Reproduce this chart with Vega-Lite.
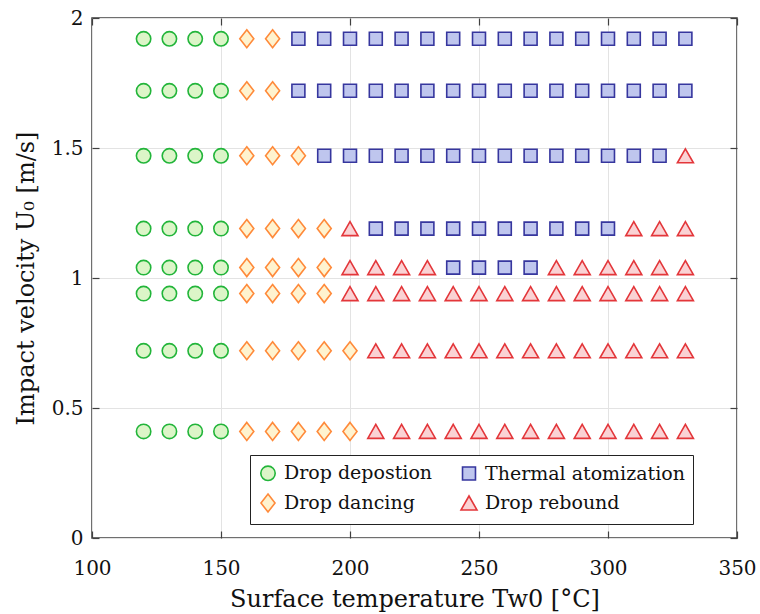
{
  "$schema": "https://vega.github.io/schema/vega-lite/v6.json",
  "width": 645,
  "height": 520,
  "autosize": "none",
  "padding": {"left": 92, "top": 18, "right": 23, "bottom": 76},
  "background": "white",
  "config": {
    "font": "DejaVu Serif",
    "view": {"stroke": "#404040", "strokeWidth": 1.5},
    "axis": {
      "labelFont": "DejaVu Serif",
      "titleFont": "DejaVu Serif",
      "labelColor": "#111",
      "titleColor": "#111",
      "labelFontSize": 20,
      "titleFontSize": 24,
      "titleFontWeight": "normal",
      "labelFlush": false,
      "labelOverlap": false,
      "domain": false,
      "tickColor": "#404040",
      "tickWidth": 1.2,
      "tickSize": -7,
      "gridColor": "#e3e3e3",
      "gridWidth": 1
    },
    "legend": {"labelFont": "DejaVu Serif"}
  },
  "data": {
    "values": [
      {"T":120,"U":1.92,"r":"Drop depostion"},{"T":130,"U":1.92,"r":"Drop depostion"},{"T":140,"U":1.92,"r":"Drop depostion"},{"T":150,"U":1.92,"r":"Drop depostion"},
      {"T":160,"U":1.92,"r":"Drop dancing"},{"T":170,"U":1.92,"r":"Drop dancing"},
      {"T":180,"U":1.92,"r":"Thermal atomization"},{"T":190,"U":1.92,"r":"Thermal atomization"},{"T":200,"U":1.92,"r":"Thermal atomization"},{"T":210,"U":1.92,"r":"Thermal atomization"},{"T":220,"U":1.92,"r":"Thermal atomization"},{"T":230,"U":1.92,"r":"Thermal atomization"},{"T":240,"U":1.92,"r":"Thermal atomization"},{"T":250,"U":1.92,"r":"Thermal atomization"},{"T":260,"U":1.92,"r":"Thermal atomization"},{"T":270,"U":1.92,"r":"Thermal atomization"},{"T":280,"U":1.92,"r":"Thermal atomization"},{"T":290,"U":1.92,"r":"Thermal atomization"},{"T":300,"U":1.92,"r":"Thermal atomization"},{"T":310,"U":1.92,"r":"Thermal atomization"},{"T":320,"U":1.92,"r":"Thermal atomization"},{"T":330,"U":1.92,"r":"Thermal atomization"},

      {"T":120,"U":1.72,"r":"Drop depostion"},{"T":130,"U":1.72,"r":"Drop depostion"},{"T":140,"U":1.72,"r":"Drop depostion"},{"T":150,"U":1.72,"r":"Drop depostion"},
      {"T":160,"U":1.72,"r":"Drop dancing"},{"T":170,"U":1.72,"r":"Drop dancing"},
      {"T":180,"U":1.72,"r":"Thermal atomization"},{"T":190,"U":1.72,"r":"Thermal atomization"},{"T":200,"U":1.72,"r":"Thermal atomization"},{"T":210,"U":1.72,"r":"Thermal atomization"},{"T":220,"U":1.72,"r":"Thermal atomization"},{"T":230,"U":1.72,"r":"Thermal atomization"},{"T":240,"U":1.72,"r":"Thermal atomization"},{"T":250,"U":1.72,"r":"Thermal atomization"},{"T":260,"U":1.72,"r":"Thermal atomization"},{"T":270,"U":1.72,"r":"Thermal atomization"},{"T":280,"U":1.72,"r":"Thermal atomization"},{"T":290,"U":1.72,"r":"Thermal atomization"},{"T":300,"U":1.72,"r":"Thermal atomization"},{"T":310,"U":1.72,"r":"Thermal atomization"},{"T":320,"U":1.72,"r":"Thermal atomization"},{"T":330,"U":1.72,"r":"Thermal atomization"},

      {"T":120,"U":1.47,"r":"Drop depostion"},{"T":130,"U":1.47,"r":"Drop depostion"},{"T":140,"U":1.47,"r":"Drop depostion"},{"T":150,"U":1.47,"r":"Drop depostion"},
      {"T":160,"U":1.47,"r":"Drop dancing"},{"T":170,"U":1.47,"r":"Drop dancing"},{"T":180,"U":1.47,"r":"Drop dancing"},
      {"T":190,"U":1.47,"r":"Thermal atomization"},{"T":200,"U":1.47,"r":"Thermal atomization"},{"T":210,"U":1.47,"r":"Thermal atomization"},{"T":220,"U":1.47,"r":"Thermal atomization"},{"T":230,"U":1.47,"r":"Thermal atomization"},{"T":240,"U":1.47,"r":"Thermal atomization"},{"T":250,"U":1.47,"r":"Thermal atomization"},{"T":260,"U":1.47,"r":"Thermal atomization"},{"T":270,"U":1.47,"r":"Thermal atomization"},{"T":280,"U":1.47,"r":"Thermal atomization"},{"T":290,"U":1.47,"r":"Thermal atomization"},{"T":300,"U":1.47,"r":"Thermal atomization"},{"T":310,"U":1.47,"r":"Thermal atomization"},{"T":320,"U":1.47,"r":"Thermal atomization"},
      {"T":330,"U":1.47,"r":"Drop rebound"},

      {"T":120,"U":1.19,"r":"Drop depostion"},{"T":130,"U":1.19,"r":"Drop depostion"},{"T":140,"U":1.19,"r":"Drop depostion"},{"T":150,"U":1.19,"r":"Drop depostion"},
      {"T":160,"U":1.19,"r":"Drop dancing"},{"T":170,"U":1.19,"r":"Drop dancing"},{"T":180,"U":1.19,"r":"Drop dancing"},{"T":190,"U":1.19,"r":"Drop dancing"},
      {"T":200,"U":1.19,"r":"Drop rebound"},
      {"T":210,"U":1.19,"r":"Thermal atomization"},{"T":220,"U":1.19,"r":"Thermal atomization"},{"T":230,"U":1.19,"r":"Thermal atomization"},{"T":240,"U":1.19,"r":"Thermal atomization"},{"T":250,"U":1.19,"r":"Thermal atomization"},{"T":260,"U":1.19,"r":"Thermal atomization"},{"T":270,"U":1.19,"r":"Thermal atomization"},{"T":280,"U":1.19,"r":"Thermal atomization"},{"T":290,"U":1.19,"r":"Thermal atomization"},{"T":300,"U":1.19,"r":"Thermal atomization"},
      {"T":310,"U":1.19,"r":"Drop rebound"},{"T":320,"U":1.19,"r":"Drop rebound"},{"T":330,"U":1.19,"r":"Drop rebound"},

      {"T":120,"U":1.04,"r":"Drop depostion"},{"T":130,"U":1.04,"r":"Drop depostion"},{"T":140,"U":1.04,"r":"Drop depostion"},{"T":150,"U":1.04,"r":"Drop depostion"},
      {"T":160,"U":1.04,"r":"Drop dancing"},{"T":170,"U":1.04,"r":"Drop dancing"},{"T":180,"U":1.04,"r":"Drop dancing"},{"T":190,"U":1.04,"r":"Drop dancing"},
      {"T":200,"U":1.04,"r":"Drop rebound"},{"T":210,"U":1.04,"r":"Drop rebound"},{"T":220,"U":1.04,"r":"Drop rebound"},{"T":230,"U":1.04,"r":"Drop rebound"},
      {"T":240,"U":1.04,"r":"Thermal atomization"},{"T":250,"U":1.04,"r":"Thermal atomization"},{"T":260,"U":1.04,"r":"Thermal atomization"},{"T":270,"U":1.04,"r":"Thermal atomization"},
      {"T":280,"U":1.04,"r":"Drop rebound"},{"T":290,"U":1.04,"r":"Drop rebound"},{"T":300,"U":1.04,"r":"Drop rebound"},{"T":310,"U":1.04,"r":"Drop rebound"},{"T":320,"U":1.04,"r":"Drop rebound"},{"T":330,"U":1.04,"r":"Drop rebound"},

      {"T":120,"U":0.94,"r":"Drop depostion"},{"T":130,"U":0.94,"r":"Drop depostion"},{"T":140,"U":0.94,"r":"Drop depostion"},{"T":150,"U":0.94,"r":"Drop depostion"},
      {"T":160,"U":0.94,"r":"Drop dancing"},{"T":170,"U":0.94,"r":"Drop dancing"},{"T":180,"U":0.94,"r":"Drop dancing"},{"T":190,"U":0.94,"r":"Drop dancing"},
      {"T":200,"U":0.94,"r":"Drop rebound"},{"T":210,"U":0.94,"r":"Drop rebound"},{"T":220,"U":0.94,"r":"Drop rebound"},{"T":230,"U":0.94,"r":"Drop rebound"},{"T":240,"U":0.94,"r":"Drop rebound"},{"T":250,"U":0.94,"r":"Drop rebound"},{"T":260,"U":0.94,"r":"Drop rebound"},{"T":270,"U":0.94,"r":"Drop rebound"},{"T":280,"U":0.94,"r":"Drop rebound"},{"T":290,"U":0.94,"r":"Drop rebound"},{"T":300,"U":0.94,"r":"Drop rebound"},{"T":310,"U":0.94,"r":"Drop rebound"},{"T":320,"U":0.94,"r":"Drop rebound"},{"T":330,"U":0.94,"r":"Drop rebound"},

      {"T":120,"U":0.72,"r":"Drop depostion"},{"T":130,"U":0.72,"r":"Drop depostion"},{"T":140,"U":0.72,"r":"Drop depostion"},{"T":150,"U":0.72,"r":"Drop depostion"},
      {"T":160,"U":0.72,"r":"Drop dancing"},{"T":170,"U":0.72,"r":"Drop dancing"},{"T":180,"U":0.72,"r":"Drop dancing"},{"T":190,"U":0.72,"r":"Drop dancing"},{"T":200,"U":0.72,"r":"Drop dancing"},
      {"T":210,"U":0.72,"r":"Drop rebound"},{"T":220,"U":0.72,"r":"Drop rebound"},{"T":230,"U":0.72,"r":"Drop rebound"},{"T":240,"U":0.72,"r":"Drop rebound"},{"T":250,"U":0.72,"r":"Drop rebound"},{"T":260,"U":0.72,"r":"Drop rebound"},{"T":270,"U":0.72,"r":"Drop rebound"},{"T":280,"U":0.72,"r":"Drop rebound"},{"T":290,"U":0.72,"r":"Drop rebound"},{"T":300,"U":0.72,"r":"Drop rebound"},{"T":310,"U":0.72,"r":"Drop rebound"},{"T":320,"U":0.72,"r":"Drop rebound"},{"T":330,"U":0.72,"r":"Drop rebound"},

      {"T":120,"U":0.41,"r":"Drop depostion"},{"T":130,"U":0.41,"r":"Drop depostion"},{"T":140,"U":0.41,"r":"Drop depostion"},{"T":150,"U":0.41,"r":"Drop depostion"},
      {"T":160,"U":0.41,"r":"Drop dancing"},{"T":170,"U":0.41,"r":"Drop dancing"},{"T":180,"U":0.41,"r":"Drop dancing"},{"T":190,"U":0.41,"r":"Drop dancing"},{"T":200,"U":0.41,"r":"Drop dancing"},
      {"T":210,"U":0.41,"r":"Drop rebound"},{"T":220,"U":0.41,"r":"Drop rebound"},{"T":230,"U":0.41,"r":"Drop rebound"},{"T":240,"U":0.41,"r":"Drop rebound"},{"T":250,"U":0.41,"r":"Drop rebound"},{"T":260,"U":0.41,"r":"Drop rebound"},{"T":270,"U":0.41,"r":"Drop rebound"},{"T":280,"U":0.41,"r":"Drop rebound"},{"T":290,"U":0.41,"r":"Drop rebound"},{"T":300,"U":0.41,"r":"Drop rebound"},{"T":310,"U":0.41,"r":"Drop rebound"},{"T":320,"U":0.41,"r":"Drop rebound"},{"T":330,"U":0.41,"r":"Drop rebound"}
    ]
  },
  "resolve": {"axis": {"x": "independent", "y": "independent"}},
  "layer": [
    {
      "mark": {"type": "point", "filled": false, "size": 324, "strokeWidth": 1.6, "opacity": 1},
      "encoding": {
        "x": {
          "field": "T", "type": "quantitative",
          "scale": {"domain": [100, 350], "nice": false, "zero": false},
          "axis": {"orient": "bottom", "values": [100,150,200,250,300,350], "labelPadding": 27, "title": "Surface temperature Tw0 [°C]", "titlePadding": 9}
        },
        "y": {
          "field": "U", "type": "quantitative",
          "scale": {"domain": [0, 2], "nice": false},
          "axis": {"orient": "left", "values": [0,0.5,1,1.5,2], "format": "~g", "labelPadding": 16, "title": "Impact velocity U₀ [m/s]", "titlePadding": 13}
        },
        "shape": {
          "field": "r", "type": "nominal",
          "scale": {
            "domain": ["Drop depostion","Thermal atomization","Drop dancing","Drop rebound"],
            "range": [
              "M-0.8,0A0.8,0.8 0 1,0 0.8,0A0.8,0.8 0 1,0 -0.8,0Z",
              "M-0.72,-0.72H0.72V0.72H-0.72Z",
              "M0,-1L0.78,0L0,1L-0.78,0Z",
              "M0,-0.78L0.89,0.78L-0.89,0.78Z"
            ]
          },
          "legend": {
            "title": null,
            "orient": "none",
            "legendX": 158,
            "legendY": 437,
            "direction": "horizontal",
            "columns": 2,
            "columnPadding": 24,
            "rowPadding": 6,
            "padding": 8,
            "strokeColor": "#222",
            "fillColor": "white",
            "labelFont": "DejaVu Serif",
            "labelFontSize": 19,
            "labelLimit": 0,
            "labelColor": "#111",
            "labelOffset": 6,
            "symbolSize": 324,
            "symbolStrokeWidth": 1.6
          }
        },
        "fill": {
          "field": "r", "type": "nominal",
          "scale": {
            "domain": ["Drop depostion","Thermal atomization","Drop dancing","Drop rebound"],
            "range": ["#dcf5c8","#bfc6ee","#fff3cf","#fad2d4"]
          }
        },
        "stroke": {
          "field": "r", "type": "nominal",
          "scale": {
            "domain": ["Drop depostion","Thermal atomization","Drop dancing","Drop rebound"],
            "range": ["#22b53a","#36369e","#ff8a3a","#e3363a"]
          }
        }
      }
    },
    {
      "mark": {"type": "point", "opacity": 0},
      "encoding": {
        "x": {
          "field": "T", "type": "quantitative",
          "scale": {"domain": [100, 350], "nice": false, "zero": false},
          "axis": {"orient": "top", "values": [100,150,200,250,300,350], "labels": false, "grid": false, "title": null}
        },
        "y": {
          "field": "U", "type": "quantitative",
          "scale": {"domain": [0, 2], "nice": false},
          "axis": {"orient": "right", "values": [0,0.5,1,1.5,2], "labels": false, "grid": false, "title": null}
        }
      }
    }
  ]
}
